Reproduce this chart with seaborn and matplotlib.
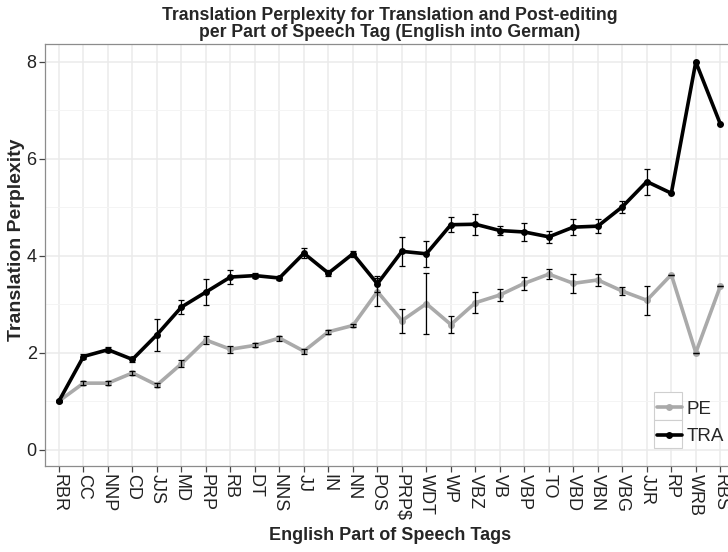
import numpy as np
import pandas as pd
import matplotlib
matplotlib.use("Agg")
import matplotlib.pyplot as plt
import seaborn as sns
from matplotlib.ticker import MultipleLocator
from matplotlib.patches import Rectangle

# ------------------------------------------------------------
# data
# ------------------------------------------------------------
tags = ["RBR", "CC", "NNP", "CD", "JJS", "MD", "PRP", "RB", "DT", "NNS",
        "JJ", "IN", "NN", "POS", "PRP$", "WDT", "WP", "VBZ", "VB", "VBP",
        "TO", "VBD", "VBN", "VBG", "JJR", "RP", "WRB", "RBS"]

tra = [1.00, 1.92, 2.06, 1.86, 2.37, 2.94, 3.25, 3.56, 3.59, 3.54,
       4.05, 3.64, 4.04, 3.42, 4.09, 4.04, 4.64, 4.65, 4.52, 4.49,
       4.39, 4.59, 4.61, 5.01, 5.53, 5.29, 8.00, 6.72]
tra_err = [0.02, 0.06, 0.05, 0.05, 0.33, 0.15, 0.26, 0.14, 0.06, 0.05,
           0.10, 0.06, 0.06, 0.17, 0.30, 0.27, 0.16, 0.22, 0.10, 0.19,
           0.12, 0.17, 0.15, 0.12, 0.27, 0.0, 0.0, 0.0]

pe = [1.00, 1.37, 1.37, 1.58, 1.33, 1.77, 2.26, 2.07, 2.15, 2.30,
      2.03, 2.43, 2.56, 3.26, 2.66, 3.01, 2.58, 3.03, 3.19, 3.43,
      3.62, 3.43, 3.50, 3.27, 3.08, 3.61, 2.00, 3.37]
pe_err = [0.02, 0.04, 0.04, 0.05, 0.04, 0.07, 0.09, 0.07, 0.04, 0.05,
          0.05, 0.04, 0.04, 0.29, 0.25, 0.63, 0.17, 0.22, 0.12, 0.14,
          0.11, 0.19, 0.12, 0.09, 0.30, 0.0, 0.0, 0.0]

df = pd.concat([
    pd.DataFrame({"tag": tags, "ppl": pe, "err": pe_err, "cond": "PE"}),
    pd.DataFrame({"tag": tags, "ppl": tra, "err": tra_err, "cond": "TRA"}),
], ignore_index=True)

# ------------------------------------------------------------
# plot
# ------------------------------------------------------------
sns.set_style("whitegrid")
plt.rcParams["font.family"] = ["Liberation Sans", "DejaVu Sans"]

fig = plt.figure(figsize=(7.28, 5.52), dpi=100)
W, H = 728, 552
ax = fig.add_axes([45 / W, 1 - 466 / H, (735 - 45) / W, (466 - 44) / H])

sns.lineplot(data=df, x="tag", y="ppl", hue="cond",
             palette={"PE": "#aaaaaa", "TRA": "black"},
             marker="o", markersize=5, markeredgewidth=0,
             linewidth=2.6, sort=False, ax=ax)

for cond, sub in df.groupby("cond"):
    ax.errorbar(sub["tag"], sub["ppl"], yerr=sub["err"], fmt="none",
                ecolor="black", elinewidth=0.9, capsize=2.5, capthick=0.9,
                zorder=5)

ax.set_xlim(-0.57, len(tags) - 1 + 0.6)
ax.set_ylim(-0.34, 8.37)
ax.yaxis.set_major_locator(MultipleLocator(2))
ax.yaxis.set_minor_locator(MultipleLocator(1))

ax.grid(which="major", color="#ebebeb", linewidth=1.1)
ax.grid(which="minor", axis="y", color="#f4f4f4", linewidth=0.7)
ax.set_axisbelow(True)
for s in ax.spines.values():
    s.set_color("#8c8c8c")
    s.set_linewidth(0.9)

ax.tick_params(axis="both", which="major", length=4, width=0.9,
               color="#444444", labelcolor="#222222", labelsize=13,
               bottom=True, left=True, pad=2)
ax.tick_params(axis="y", which="minor", length=0)
plt.setp(ax.get_xticklabels(), rotation=270, va="top", ha="center")

ax.set_xlabel("English Part of Speech Tags", fontsize=13, fontweight="bold",
              labelpad=4)
ax.set_ylabel("Translation Perplexity", fontsize=14, fontweight="bold")
ax.yaxis.set_label_coords(-0.0285, 0.535)
ax.set_title("Translation Perplexity for Translation and Post-editing\n"
             "per Part of Speech Tag (English into German)",
             fontsize=12.7, fontweight="bold", linespacing=1.0, pad=5)

# legend with ggplot-like key boxes
for y0 in (392, 420):
    ax.add_patch(Rectangle((654 / W, 1 - (y0 + 28) / H), 28 / W, 28 / H,
                           transform=fig.transFigure, facecolor="white",
                           edgecolor="#cfcfcf", linewidth=0.8, zorder=8,
                           clip_on=False))
leg = ax.legend(title=None, loc="upper left",
                bbox_to_anchor=(653 / W, 1 - 397 / H),
                bbox_transform=fig.transFigure, borderaxespad=0,
                fontsize=13.5, frameon=False, handlelength=1.35,
                handletextpad=0.25, labelspacing=0.55, borderpad=0.2)
leg.set_zorder(10)

fig.savefig("out.png", dpi=100)
